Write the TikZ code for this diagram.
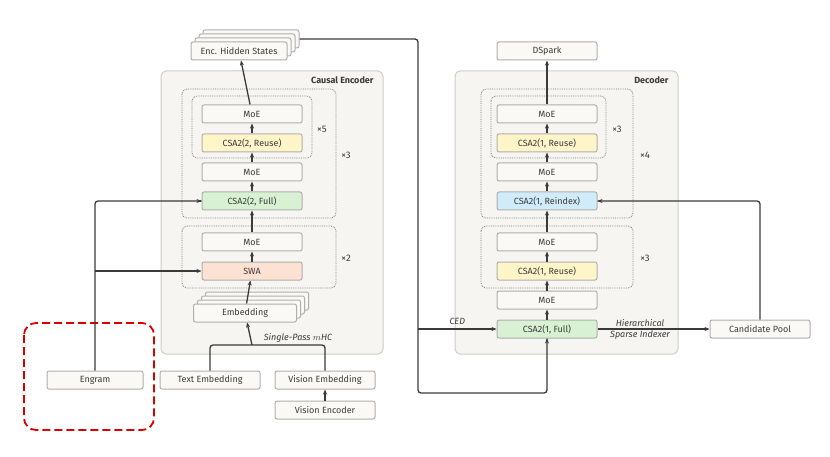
\documentclass[tikz,border=0pt]{standalone}
\usepackage{fontspec}
\setmainfont{Fira Sans}
\usetikzlibrary{arrows.meta}
\definecolor{panelfill}{HTML}{F6F5F1}
\definecolor{paneldraw}{HTML}{CDCDCB}
\definecolor{boxfill}{HTML}{FAF9F6}
\definecolor{boxdraw}{HTML}{AFAFAF}
\definecolor{reuse}{HTML}{FFF5C8}
\definecolor{full}{HTML}{D8F1D3}
\definecolor{swa}{HTML}{FDE2D4}
\definecolor{reindex}{HTML}{D0ECFA}
\definecolor{txt}{HTML}{3A3A3A}
\tikzset{
  blk/.style = {draw = boxdraw, fill = boxfill, line width = 1pt, rounded corners = 2pt, minimum width = 100pt, minimum height = 18pt, inner sep = 0pt, text = txt, font = \fontsize{9}{10}\selectfont},
  panel/.style = {draw = paneldraw, fill = panelfill, line width = 1pt, rounded corners = 5pt},
  group/.style = {draw = gray, densely dotted, line width = 0.8pt, rounded corners = 5pt},
  arr/.style = {-{Stealth[length=5pt,width=4pt]}, draw = txt, line width = 1.3pt},
  wire/.style = {draw = txt, line width = 1.3pt, rounded corners = 3pt},
  times/.style = {font = \fontsize{9.5}{10}\selectfont, text = txt},
  tag/.style = {font = \fontsize{9}{10}\selectfont\itshape, text = txt}
}
\begin{document}
\begin{tikzpicture}[x = 1pt, y = -1pt]
\useasboundingbox (0,0) rectangle (830,457);
% panels
\draw[panel] (161,71) rectangle (383,354);
\draw[panel] (455,71) rectangle (678,354);
\node[font = \fontsize{9}{10}\selectfont\bfseries, text = txt, anchor = east] at (377,80) {Causal Encoder};
\node[font = \fontsize{9}{10}\selectfont\bfseries, text = txt, anchor = east] at (672,80) {Decoder};
% groups
\draw[group] (182,89) rectangle (336,218);
\draw[group] (192,96) rectangle (312,158);
\draw[group] (182,226) rectangle (336,288);
\draw[group] (481,89) rectangle (633,218);
\draw[group] (491,96) rectangle (606,158);
\draw[group] (481,226) rectangle (633,288);
\node[times] at (322,129) {×5};
\node[times] at (346,155) {×3};
\node[times] at (346,258) {×2};
\node[times] at (617,129) {×3};
\node[times] at (645,155) {×4};
\node[times] at (645,258) {×3};
% stacked boxes
\foreach \n in {3,2,1} {
  \node[blk, minimum width = 96pt] at (239+4*\n,51-4*\n) {};
  \node[blk, minimum width = 103pt] at (245+4*\n,313-4*\n) {};
}
\node[blk, minimum width = 96pt] (hidden) at (239,51) {Enc. Hidden States};
\node[blk, minimum width = 103pt] (emb) at (245,313) {Embedding};
% encoder
\node[blk] (emoeA) at (252,114) {MoE};
\node[blk, fill = reuse] (ereuse) at (252,143) {CSA2(2, Reuse)};
\node[blk] (emoeB) at (252,172) {MoE};
\node[blk, fill = full] (efull) at (252,201) {CSA2(2, Full)};
\node[blk] (emoeC) at (252,242) {MoE};
\node[blk, fill = swa] (swa) at (252,271) {SWA};
\node[blk] (text) at (210,380) {Text Embedding};
\node[blk] (vemb) at (325,380) {Vision Embedding};
\node[blk] (venc) at (325,410) {Vision Encoder};
\node[blk, minimum width = 96pt] (engram) at (95,380) {Engram};
\draw[red!85!black, line width = 1.8pt, dash pattern = on 8pt off 4pt, rounded corners = 12pt] (24,323) rectangle (154,430);
% decoder
\node[blk] (dspark) at (547,51) {DSpark};
\node[blk] (dmoeA) at (547,114) {MoE};
\node[blk, fill = reuse] (dreuseA) at (547,143) {CSA2(1, Reuse)};
\node[blk] (dmoeB) at (547,172) {MoE};
\node[blk, fill = reindex] (reidx) at (547,201) {CSA2(1, Reindex)};
\node[blk] (dmoeC) at (547,242) {MoE};
\node[blk, fill = reuse] (dreuseB) at (547,271) {CSA2(1, Reuse)};
\node[blk] (dmoeD) at (547,300) {MoE};
\node[blk, fill = full] (dfull) at (547,329) {CSA2(1, Full)};
\node[blk] (pool) at (760,329) {Candidate Pool};
% encoder flow
\draw[arr] (emb) -- (swa);
\draw[arr] (swa) -- (emoeC);
\draw[arr] (emoeC) -- (efull);
\draw[arr] (efull) -- (emoeB);
\draw[arr] (emoeB) -- (ereuse);
\draw[arr] (ereuse) -- (emoeA);
\draw[arr] (emoeA) -- (hidden);
\draw[wire] (text.north) |- (252,345) -| (vemb.north);
\draw[arr] (252,345) -- (emb);
\draw[arr] (venc) -- (vemb);
\draw[wire] (engram.north) |- (efull.west);
\draw[arr] (efull.west) ++(-1,0) -- (efull.west);
\draw[arr] (95,271) -- (swa.west);
\node[tag] at (298,338) {Single-Pass $m$HC};
% decoder flow
\draw[arr] (dfull) -- (dmoeD);
\draw[arr] (dmoeD) -- (dreuseB);
\draw[arr] (dreuseB) -- (dmoeC);
\draw[arr] (dmoeC) -- (reidx);
\draw[arr] (reidx) -- (dmoeB);
\draw[arr] (dmoeB) -- (dreuseA);
\draw[arr] (dreuseA) -- (dmoeA);
\draw[arr] (dmoeA) -- (dspark);
\draw[wire] (hidden.east) ++(12,-12) -- (418,39) -- (418,393) -| (dfull.south);
\draw[arr] (dfull.south) ++(0,1) -- (dfull.south);
\draw[arr] (418,329) -- node[tag, above] {CED} (dfull.west);
\draw[arr] (dfull.east) -- (pool.west);
\node[tag, align = center] at (640,329) {Hierarchical\\[1pt]Sparse Indexer};
\draw[wire] (pool.north) |- (reidx.east);
\draw[arr] (reidx.east) ++(1,0) -- (reidx.east);
\end{tikzpicture}
\end{document}
